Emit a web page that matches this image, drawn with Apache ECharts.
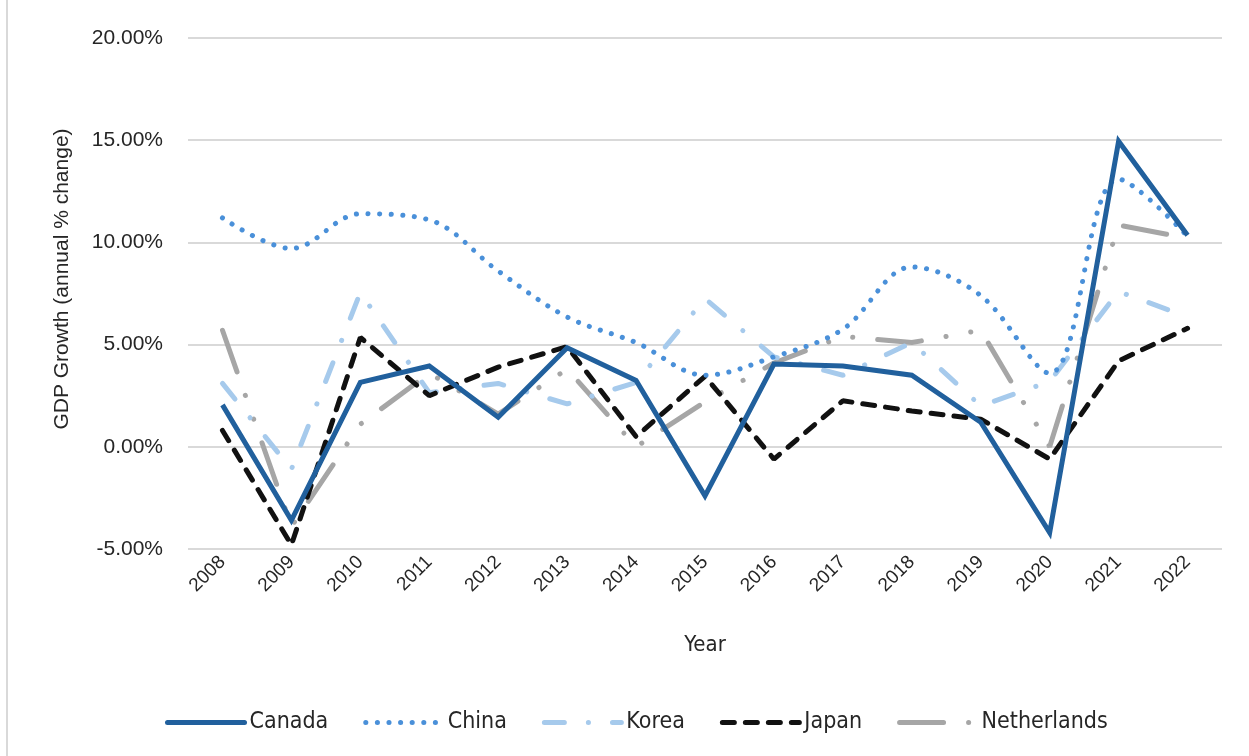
<!DOCTYPE html>
<html>
<head>
<meta charset="utf-8">
<script src="https://cdn.jsdelivr.net/npm/echarts@6/dist/echarts.min.js"></script>
<style>
  html, body { margin: 0; padding: 0; background: #fff; }
  #main { width: 1249px; height: 756px; }
</style>
</head>
<body>
<div id="main"></div>
<script>
// data (annual % change)
var years = ['2008', '2009', '2010', '2011', '2012', '2013', '2014', '2015', '2016', '2017', '2018', '2019', '2020', '2021', '2022'];
var canada = [2.05, -3.6, 3.15, 3.95, 1.45, 4.85, 3.25, -2.4, 4.05, 3.95, 3.5, 1.2, -4.2, 14.95, 10.35];
var china = [11.2, 9.7, 11.4, 11.1, 8.6, 6.35, 5.1, 3.5, 4.4, 5.75, 8.8, 7.4, 3.6, 13.1, 10.3];
var korea = [3.1, -1.1, 7.55, 2.65, 3.1, 2.1, 3.15, 7.25, 4.4, 3.5, 5.1, 2.0, 3.2, 7.6, 6.35];
var japan = [0.8, -4.8, 5.35, 2.5, 3.9, 4.9, 0.5, 3.45, -0.6, 2.25, 1.75, 1.35, -0.6, 4.2, 5.8];
var netherlands = [5.7, -3.9, 1.1, 3.6, 1.6, 3.8, 0.0, 2.2, 4.1, 5.4, 5.1, 5.7, 0.0, 10.85, 10.2];

var myChart = echarts.init(document.getElementById('main'));

var narrow = "'DejaVu Sans Condensed', 'Liberation Sans', sans-serif";
var regular = "'Liberation Sans', Arial, sans-serif";

myChart.setOption({
    animation: false,
    backgroundColor: '#fff',
    graphic: [
        {
            type: 'line',
            shape: { x1: 7, y1: 0, x2: 7, y2: 756 },
            style: { stroke: '#d9d9d9', lineWidth: 2 }
        },
        {
            // y axis title
            type: 'text',
            x: 62,
            y: 279,
            rotation: Math.PI / 2,
            style: {
                text: 'GDP Growth (annual % change)',
                font: '21px ' + regular,
                fill: '#262626',
                align: 'center',
                verticalAlign: 'middle'
            }
        }
    ],
    grid: { left: 188, right: 27, top: 38, bottom: 207 },
    legend: {
        left: 160,
        top: 706,
        itemWidth: 77,
        itemHeight: 14,
        itemGap: 35,
        itemStyle: { opacity: 0 },
        lineStyle: { width: 5, cap: 'round' },
        textStyle: { fontFamily: narrow, fontSize: 23, color: '#262626' },
        data: ['Canada', 'China', 'Korea', 'Japan', 'Netherlands']
    },
    xAxis: {
        type: 'category',
        data: years,
        name: 'Year',
        nameLocation: 'middle',
        nameGap: 85,
        nameTextStyle: { fontFamily: narrow, fontSize: 22, color: '#262626' },
        axisLine: { show: false },
        axisTick: { show: false },
        axisLabel: { rotate: 45, margin: 10, fontFamily: regular, fontSize: 19, color: '#262626' }
    },
    yAxis: {
        type: 'value',
        min: -5,
        max: 20,
        interval: 5,
        axisLine: { show: false },
        axisTick: { show: false },
        axisLabel: {
            margin: 25,
            fontFamily: regular,
            fontSize: 21,
            color: '#262626',
            formatter: function (v) { return v.toFixed(2) + '%'; }
        },
        splitLine: { lineStyle: { color: '#d9d9d9', width: 2 } }
    },
    series: [
        {
            name: 'Canada',
            type: 'line',
            data: canada,
            symbol: 'none',
            color: '#21609d',
            lineStyle: { width: 5, color: '#21609d', join: 'miter' },
            z: 5
        },
        {
            name: 'China',
            type: 'line',
            data: china,
            smooth: 0.35,
            symbol: 'none',
            color: '#4a90d9',
            lineStyle: { width: 5, color: '#4a90d9', type: [0.1, 11.5], cap: 'round' },
            z: 4
        },
        {
            name: 'Korea',
            type: 'line',
            data: korea,
            symbol: 'none',
            color: '#a6caec',
            lineStyle: { width: 5, color: '#a6caec', type: [20, 24, 0.1, 24], cap: 'round' },
            z: 2
        },
        {
            name: 'Japan',
            type: 'line',
            data: japan,
            symbol: 'none',
            color: '#111111',
            lineStyle: { width: 5, color: '#111111', type: [12, 11], cap: 'round' },
            z: 3
        },
        {
            name: 'Netherlands',
            type: 'line',
            data: netherlands,
            symbol: 'none',
            color: '#a6a6a6',
            lineStyle: { width: 5, color: '#a6a6a6', type: [44, 25, 0.1, 25, 0.1, 25], cap: 'round' },
            z: 1
        }
    ]
});
</script>
</body>
</html>
